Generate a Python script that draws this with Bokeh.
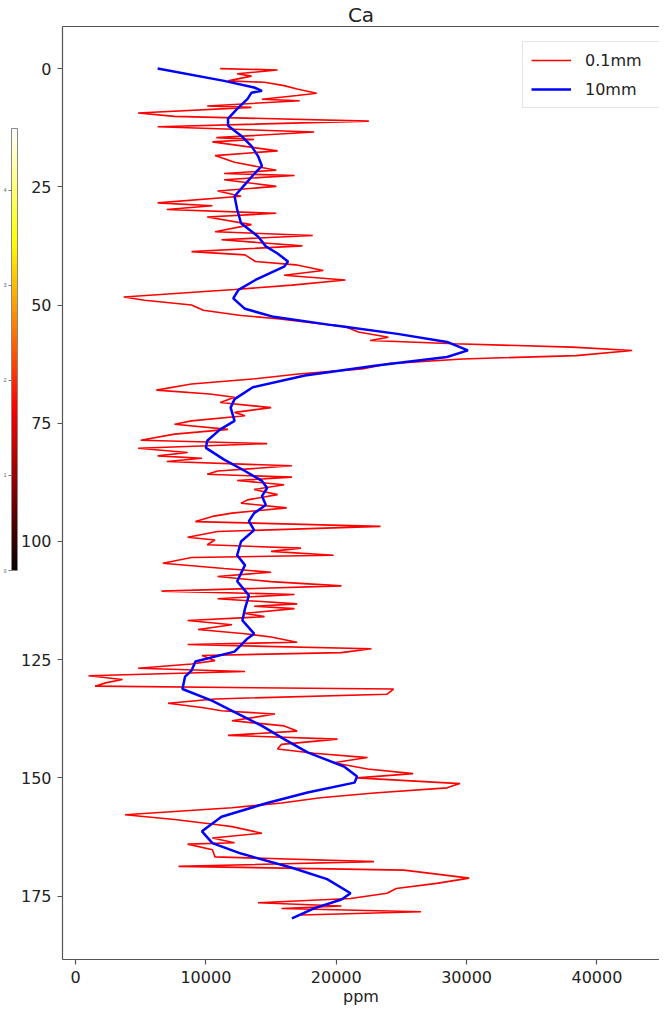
from bokeh.plotting import figure
from bokeh.models import (Range1d, FixedTicker, LinearAxis, ColorBar, LinearColorMapper,
                          Legend, LegendItem, Title)
from bokeh.embed import file_html
from bokeh.resources import INLINE

# ---------------- data ----------------
red_depth = [0.0, 0.3, 1.1, 1.6, 2.6, 2.9, 3.6, 4.3, 5.2, 5.7, 6.5, 6.8, 7.9, 8.2, 9.4, 10.1,
             11.1, 12.3, 13.4, 14.6, 15.0, 15.5, 17.4, 18.4, 19.8, 21.5, 22.2, 22.6, 23.5, 24.9,
             25.9, 27.0, 28.4, 29.0, 29.8, 30.6, 31.4, 33.0, 34.5, 35.3, 36.2, 37.5, 38.7, 39.4,
             40.8, 41.5, 42.7, 43.7, 44.7, 45.8, 46.7, 48.3, 49.0, 50.0, 51.1, 52.2, 52.9, 54.6,
             55.7, 56.8, 57.5, 58.2, 58.9, 59.6, 60.7, 61.4, 62.4, 63.5, 64.6, 65.6, 66.7, 68.0,
             68.8, 69.5, 70.6, 71.7, 72.7, 73.4, 74.5, 75.2, 76.3, 77.3, 78.6,
             79.3, 80.3, 81.2, 81.9, 82.4, 83.1, 84.0, 85.1, 85.8, 86.4, 87.1, 88.0, 89.0, 90.1,
             91.2, 91.9, 92.9, 94.0, 94.7, 95.8, 96.8, 97.9, 99.1, 99.7, 100.7, 101.4, 102.1,
             102.9, 103.4, 104.6, 105.7, 106.5, 107.4, 108.5, 109.4, 110.5, 111.2, 112.1, 113.2,
             113.7, 114.2, 115.2, 115.9, 116.7, 117.6, 118.6, 119.5, 120.2,
             121.3, 121.8, 122.7, 123.5, 124.1, 125.2, 125.9, 126.8, 127.5, 128.4, 129.2, 129.9,
             130.6, 131.2, 132.3, 133.3, 134.2, 135.1, 135.8, 136.5, 137.2, 137.9, 139.0, 140.1,
             141.0, 141.8, 142.9, 143.9, 144.8, 145.7, 146.8, 148.1, 149.1, 150.0, 151.2, 152.1,
             153.2, 154.2, 155.3, 156.3, 157.8, 158.8, 159.9,
             160.3, 161.7, 162.7, 163.7, 164.0, 165.2, 166.7, 167.7, 168.7, 169.5, 171.2, 172.3,
             173.4, 174.4, 175.5, 176.4, 177.1, 177.6, 178.3, 179.0]
red_ppm = [11100, 15500, 12400, 13500, 11700, 14500, 16000, 17000, 18500, 17000, 14300, 17200,
           10100, 13500, 4800, 7600, 22500, 6300, 18300, 10800, 13700, 10500, 15500, 10700, 12200,
           15400, 11400, 16800, 11400, 15400, 10900, 12700, 6300, 10500, 7000, 15400, 10100, 13500,
           10700, 18200, 11200, 17400, 8900, 13000,
           13800, 16900, 19000, 16000, 20700, 16600, 12200, 3700, 5300, 8900, 9800, 12700, 15500,
           20700, 21700, 24000, 22600, 29100, 38100, 42700, 38400, 29700, 24000, 22000, 17100,
           13800, 8900, 6200, 10300, 12200, 11100, 15000, 12200, 13000, 8900, 7600, 11700, 7600,
           5000,
           14700, 4800, 8600, 6300, 9700, 7000, 16600, 10900, 10100, 16600, 12400, 16000, 13700,
           15500, 13200, 12700, 16200, 12000, 10500, 9200, 23400, 10900, 8600, 10700, 10100,
           17300, 15000, 19800, 8900, 6700, 11400, 15000, 10900, 15000, 20400, 6600, 16800,
           10900, 17000, 13700, 16800, 13000, 14500, 8600, 12000, 9400, 13000, 15000,
           17000, 8600, 22700, 20400, 9700, 10700, 8900, 4800, 13000, 1000, 3600, 2300, 1500,
           24400, 23900, 10700, 7100, 9700, 11200, 15300, 13700, 12000, 16000, 17000, 11700,
           20100, 15800, 15500, 18300, 22400, 19800, 22400, 25900, 21600, 29500, 28500, 22900,
           18800, 15800, 12000, 3800, 7600, 10900,
           12000, 14300, 10500, 12200, 8600, 10500, 10700, 22900, 7900, 25200, 30200, 27700,
           24600, 23900, 21100, 14000, 20400, 15800, 26500, 17300]

blue_depth = [0.0, 2.6, 4.0, 4.7, 5.1, 6.4, 8.5, 10.6, 12.1, 14.2, 16.4, 18.5, 20.6, 22.3, 24.5,
              27.0, 29.8, 32.7, 35.5, 37.6, 39.1, 40.8, 41.9, 44.7, 46.8, 48.6, 50.8, 52.5, 54.3,
              56.1, 57.8, 59.6, 61.0, 62.8, 64.9, 67.4, 69.9, 71.7, 74.5, 76.3, 78.7, 80.2, 82.7,
              85.1, 87.2, 88.7, 90.4, 92.3, 94.0, 95.7, 97.6, 100.0, 102.9, 105.0, 108.4, 111.4,
              114.2, 116.7, 119.5, 120.5, 123.3, 125.4, 127.3, 128.6, 131.2, 133.7, 136.1, 139.0,
              141.8, 144.6, 147.6, 149.7, 151.0, 153.1, 155.3, 158.2, 161.3, 163.8, 166.0, 169.0,
              171.4, 174.4, 175.7, 177.6, 179.7]
blue_ppm = [6300, 11400, 13700, 14300, 13500, 13200, 12400, 11700, 11700, 12700, 13500, 14000,
            14300, 13700, 13000, 12200, 12400, 12700, 14000, 14600, 15500, 16300, 16000, 13800,
            12500, 12100, 13000, 15200, 19800, 24700, 28500, 30100, 28500, 23100, 17600, 13600,
            12200, 11900, 12200, 11100, 10100, 10000, 11400, 13000, 14300, 14700, 14300, 14600,
            13700, 13300, 13700, 12700, 12400, 13000, 12400, 13300, 13000, 12800, 13700, 13200,
            12200, 9200, 8900, 8400, 8200, 10500, 12200, 14300, 16000, 17800, 20600, 21600, 21400,
            17800, 14700, 11200, 9700, 10500, 12700, 16600, 19300, 21100, 20400, 18300, 16600]

x_ticks = [0, 10000, 20000, 30000, 40000]
y_ticks = [0, 25, 50, 75, 100, 125, 150, 175]
cbar_ticks = [0, 1, 2, 3, 4]
title_text = "Ca"
x_label = "ppm"
series_labels = ["0.1mm", "10mm"]

# matplotlib "hot" colormap for the (cropped) colour bar of the neighbouring panel
def hot_palette(n=256):
    cols = []
    for i in range(n):
        t = i / (n - 1)
        r = min(1.0, 0.0416 + t / 0.365079 * (1 - 0.0416))
        g = min(1.0, max(0.0, (t - 0.365079) / (0.746032 - 0.365079)))
        b = min(1.0, max(0.0, (t - 0.746032) / (1 - 0.746032)))
        cols.append("#%02x%02x%02x" % (int(r * 255), int(g * 255), int(b * 255)))
    return cols

FONT = "DejaVu Sans"
SPINE = "#555555"
FS = "16px"
RED = "#ff0000"
BLUE = "#0000ff"

p = figure(width=659, height=1015, output_backend="svg", toolbar_location=None,
           x_range=Range1d(-1000, 44800), y_range=Range1d(188.4, -8.9),
           min_border_left=59, min_border_right=0, min_border_top=23, min_border_bottom=56,
           tools="")
p.outline_line_color = None
p.grid.visible = False
p.background_fill_color = "white"

p.title = Title(text=title_text, align="center", text_font=FONT, text_font_size="20px",
                text_font_style="normal", text_color="#222222", standoff=0)

for ax in (p.xaxis[0], p.yaxis[0]):
    ax.axis_line_color = SPINE
    ax.axis_line_width = 1.2
    ax.major_tick_line_color = SPINE
    ax.major_tick_line_width = 1.2
    ax.major_tick_out = 5
    ax.major_tick_in = 0
    ax.minor_tick_line_color = None
    ax.major_label_text_font = FONT
    ax.major_label_text_font_size = FS
    ax.major_label_text_color = "#222222"

p.xaxis[0].ticker = FixedTicker(ticks=x_ticks)
p.yaxis[0].ticker = FixedTicker(ticks=y_ticks)
p.xaxis[0].major_label_standoff = 6
p.yaxis[0].major_label_standoff = 6
p.xaxis[0].axis_label = x_label
p.xaxis[0].axis_label_text_font = FONT
p.xaxis[0].axis_label_text_font_size = FS
p.xaxis[0].axis_label_text_font_style = "normal"
p.xaxis[0].axis_label_text_color = "#222222"
p.xaxis[0].axis_label_standoff = 1

# top spine
top_ax = LinearAxis(ticker=FixedTicker(ticks=[]), axis_line_color=SPINE, axis_line_width=1.2,
                    major_tick_line_color=None, minor_tick_line_color=None)
p.add_layout(top_ax, "above")

r1 = p.line(red_ppm, red_depth, line_color=RED, line_width=1.6)
r2 = p.line(blue_ppm, blue_depth, line_color=BLUE, line_width=2.5)

legend = Legend(items=[LegendItem(label=series_labels[0], renderers=[r1]),
                       LegendItem(label=series_labels[1], renderers=[r2])],
                location=(460, 851), label_text_font=FONT, label_text_font_size=FS,
                label_text_color="#222222", glyph_width=40, glyph_height=20,
                label_standoff=14, label_width=66, spacing=9, padding=8,
                border_line_color="#cccccc", border_line_width=1,
                background_fill_alpha=0.8, margin=0)
p.add_layout(legend, "center")

mapper = LinearColorMapper(palette=hot_palette(), low=0, high=4.65)
cbar = ColorBar(color_mapper=mapper, ticker=FixedTicker(ticks=cbar_ticks), width=6, height=442,
                location=(0, 389), padding=0, margin=0, major_label_text_font_size="5px",
                major_label_text_color="#555555", major_tick_line_color="#777777",
                major_tick_out=3, major_tick_in=0, label_standoff=2,
                bar_line_color="#888888", bar_line_width=1)
p.add_layout(cbar, "left")

open("out.html", "w").write(file_html(p, INLINE))
